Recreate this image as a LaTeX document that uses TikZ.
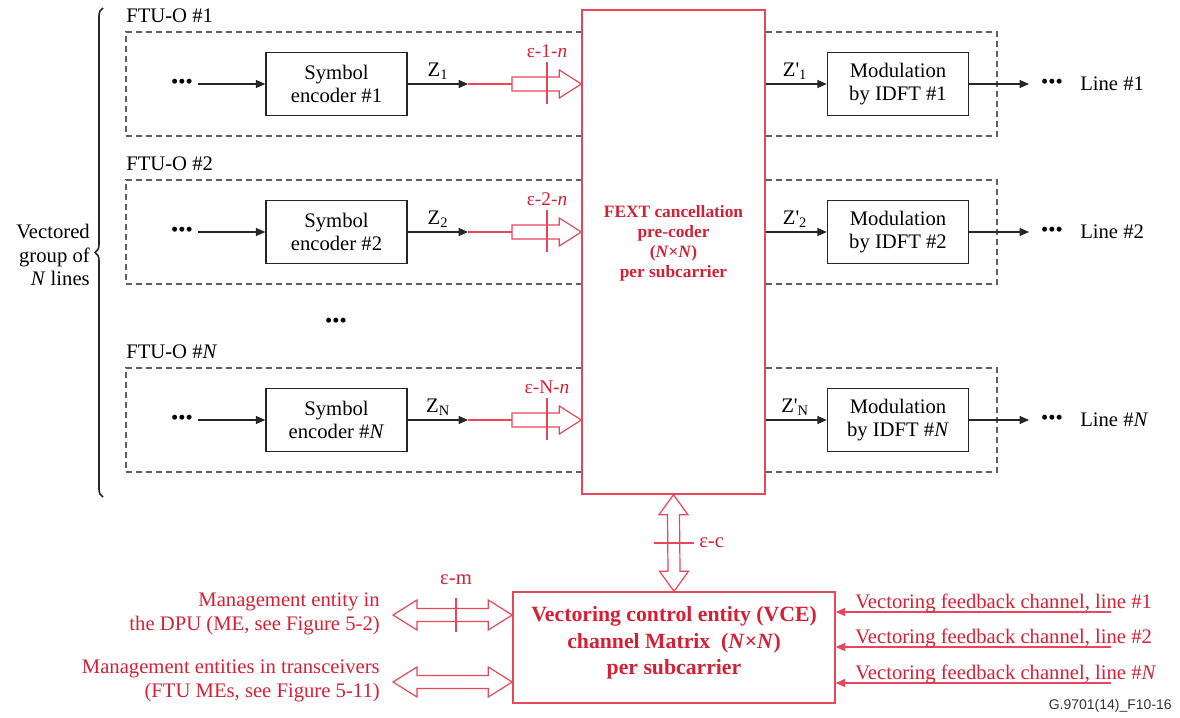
\documentclass[tikz,border=0pt]{standalone}
\usepackage{fontspec}
\setmainfont{Liberation Serif}
\newfontfamily\sansf{Liberation Sans}
\usetikzlibrary{arrows.meta,calc,decorations.pathreplacing}
\definecolor{vred}{RGB}{212,32,52}
\definecolor{vline}{RGB}{232,70,90}
\definecolor{dgray}{RGB}{95,95,95}
\newcommand\hollowR[2]{\draw[hol] ($(#1)+(0,-7)$) -- ($(#2)+(-22,-7)$) -- ($(#2)+(-22,-14)$) -- (#2) -- ($(#2)+(-22,14)$) -- ($(#2)+(-22,7)$) -- ($(#1)+(0,7)$) -- cycle;}
\newcommand\hollowLR[2]{\draw[hol] (#1) -- ($(#1)+(24,-15)$) -- ($(#1)+(24,-6.5)$) -- ($(#2)+(-24,-6.5)$) -- ($(#2)+(-24,-15)$) -- (#2) -- ($(#2)+(-24,15)$) -- ($(#2)+(-24,6.5)$) -- ($(#1)+(24,6.5)$) -- ($(#1)+(24,15)$) -- cycle;}
\newcommand\hollowUD[2]{\draw[hol] (#1) -- ($(#1)+(14.5,20)$) -- ($(#1)+(6,20)$) -- ($(#2)+(6,-20)$) -- ($(#2)+(14.5,-20)$) -- (#2) -- ($(#2)+(-14.5,-20)$) -- ($(#2)+(-6,-20)$) -- ($(#1)+(-6,20)$) -- ($(#1)+(-14.5,20)$) -- cycle;}
\begin{document}
\begin{tikzpicture}[x=0.75pt,y=-0.75pt,
  every node/.style={font=\fontsize{15.5}{17}\selectfont},
  blk/.style={draw=black!85, line width=1.1pt, minimum width=105.75pt, minimum height=47.25pt, align=center, fill=white, inner sep=0pt},
  grp/.style={draw=dgray, dash pattern=on 4.5pt off 3pt, line width=1.1pt, minimum width=653.25pt, minimum height=78pt, inner sep=0pt},
  redbox/.style={draw=vline, line width=1.1pt, fill=white, inner sep=0pt},
  arr/.style={-{Triangle[length=7pt,width=6pt]}, line width=0.9pt, draw=black!85},
  rarr/.style={-{Triangle[length=7pt,width=6pt]}, line width=0.9pt, draw=vline, fill=vline},
  hol/.style={draw=vline, fill=white, line width=0.9pt, line join=miter},
  tck/.style={draw=vline, line width=0.9pt},
  lbl/.style={text=vred},
  dots/.style={inner sep=0pt, font=\fontsize{15.5}{17}\selectfont}
]
\useasboundingbox (0,0) rectangle (1180,717);

% dashed FTU-O groups
\foreach \y/\k/\lab in {84/1/1, 232/2/2, 420/N/\textit{N}}{
  \node[grp] (grp\k) at (561.5,\y) {};
  \node[anchor=west, inner sep=0pt] (ftu\k) at (126,\y-68) {FTU-O \#\lab};
}

% FEXT pre-coder
\node[redbox, minimum width=137.25pt, minimum height=363pt] (fext) at (673.5,252) {};
\node[lbl, align=center, font=\bfseries\fontsize{13}{15}\selectfont] (fextl) at (673.5,243) {FEXT cancellation\\pre-coder\\(\textit{N}×\textit{N})\\per subcarrier};

\foreach \y/\k/\lab in {84/1/1, 232/2/2, 420/N/\textit{N}}{
  \node[dots] (din\k) at (182,\y) {•••};
  \node[blk] (enc\k) at (336.5,\y) {Symbol\\encoder \#\lab};
  \draw[arr] ([xshift=4pt]din\k.east) -- (enc\k.west);
  \coordinate (zt\k) at (468,\y);
  \draw[arr] (enc\k.east) -- (zt\k);
  \node (zl\k) at (438,\y-13) {Z\textsubscript{\k}};
  \coordinate (hs\k) at (512,\y);
  \draw[tck] (zt\k) -- (hs\k);
  \coordinate (he\k) at (fext.west |- hs\k);
  \hollowR{hs\k}{he\k}
  \draw[tck] ($(hs\k)+(35,-22)$) -- ($(hs\k)+(35,20)$);
  \node[lbl, font=\fontsize{14.5}{16}\selectfont] (el\k) at (547,\y-33) {ε-\k-\textit{n}};
  \node[blk] (mod\k) at (898,\y) {Modulation\\by IDFT \#\lab};
  \draw[arr] (fext.east |- mod\k) -- (mod\k.west);
  \node (zp\k) at (795,\y-13) {Z\textquotesingle\textsubscript{\k}};
  \coordinate (ot\k) at (1029,\y);
  \draw[arr] (mod\k.east) -- (ot\k);
  \node[dots] (dout\k) at (1052,\y) {•••};
  \node[anchor=west, inner sep=0pt] (line\k) at (1080,\y) {Line \#\lab};
}

\node[dots] (vdots) at (336,323) {•••};

% brace and group label
\draw[decorate, decoration={brace, amplitude=6pt}, line width=1.2pt, black!85] (103,497) -- (103,8);
\node[anchor=east, align=right, inner sep=0pt, font=\fontsize{15.5}{17.5}\selectfont] (vg) at (90,255) {Vectored\\group of\\\textit{N} lines};

% VCE
\node[redbox, minimum width=241.5pt, minimum height=83.25pt] (vce) at (674,647.5) {};
\node[lbl, align=center, font=\bfseries\fontsize{16.3}{20}\selectfont] (vcel) at (674,643) {Vectoring control entity (VCE)\\channel Matrix~ (\textit{N}×\textit{N})\\per subcarrier};

% epsilon-c
\hollowUD{fext.south}{vce.north}
\coordinate (ec) at (673.5,543);
\draw[tck] ($(ec)+(-20,0)$) -- ($(ec)+(20,0)$);
\node[lbl, anchor=west, inner sep=0pt] (ecl) at (699,543) {ε-c};

% management
\coordinate (ml1) at (393,615);
\coordinate (mr1) at (vce.west |- ml1);
\hollowLR{ml1}{mr1}
\draw[tck] ($(ml1)+(63,-17)$) -- ($(ml1)+(63,17)$);
\node[lbl] (eml) at (456,580) {ε-m};
\coordinate (ml2) at (393,682);
\coordinate (mr2) at (vce.west |- ml2);
\hollowLR{ml2}{mr2}
\node[lbl, anchor=east, align=right, inner sep=0pt, font=\fontsize{15.5}{18}\selectfont] (me1) at (380,614) {Management entity in\\the DPU (ME, see Figure 5-2)};
\node[lbl, anchor=east, align=right, inner sep=0pt, font=\fontsize{15.5}{18}\selectfont] (me2) at (380,681) {Management entities in transceivers\\(FTU MEs, see Figure 5-11)};

% feedback channels
\foreach \yy/\t [count=\i] in {612/\#1, 647/\#2, 683/\#\textit{N}}{
  \coordinate (fbs\i) at (1111,\yy);
  \draw[rarr] (fbs\i) -- (vce.east |- fbs\i);
  \node[lbl, anchor=base west, inner sep=0pt] (fbt\i) at (855,\yy-4) {Vectoring feedback channel, line \t};
}

\node[anchor=east, inner sep=0pt, text=black!80, font=\sansf\fontsize{10.5}{12}\selectfont] (gid) at (1172,706) {G.9701(14)\_F10-16};
\end{tikzpicture}
\end{document}
